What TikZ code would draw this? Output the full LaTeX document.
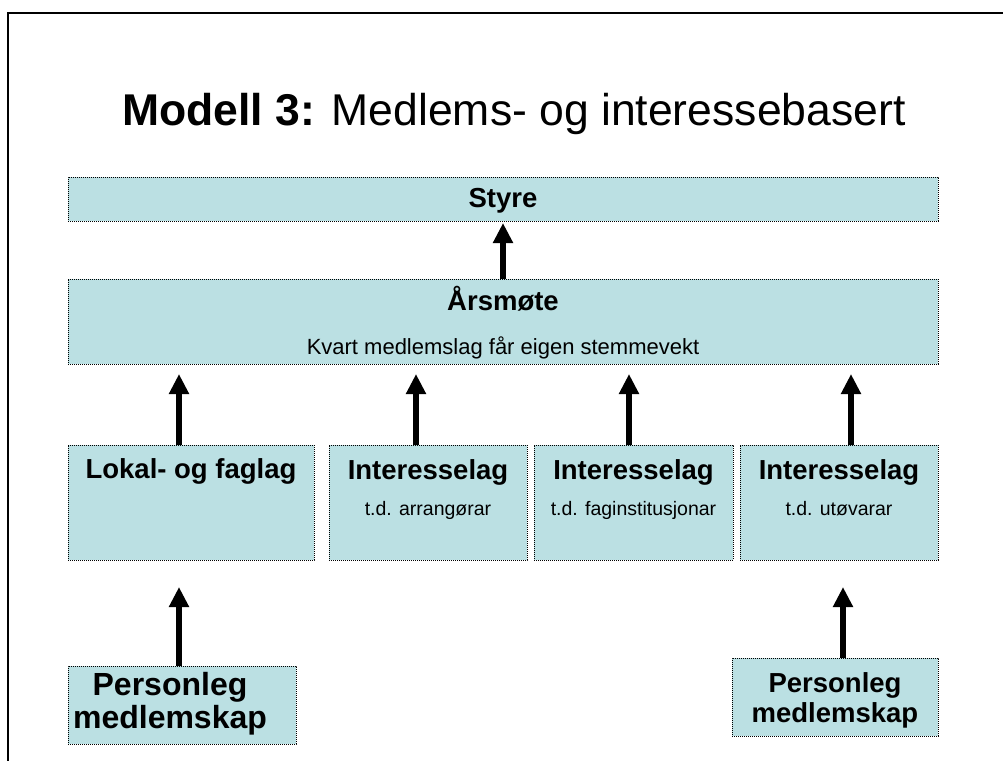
\documentclass[tikz,border=0pt]{standalone}
\usepackage{fontspec}
\setmainfont{Liberation Sans}
\usetikzlibrary{arrows.meta}
\definecolor{boxfill}{RGB}{187,224,227}
\tikzset{
  box/.style={draw=black, fill=boxfill, line width=0.9bp, dash pattern=on 1bp off 1bp, inner sep=0pt},
  arr/.style={line width=6bp, -{Triangle[width=19bp,length=20bp]}},
  lbl/.style={anchor=base, inner sep=0pt, font=\fontsize{27.5bp}{33bp}\selectfont\bfseries},
  sub/.style={anchor=base, inner sep=0pt, font=\fontsize{19.5bp}{23bp}\selectfont},
}
\newcommand{\boxat}[5]{\node[box, minimum width={(#4-#2)*1bp}, minimum height={(#5-#3)*1bp}] (#1) at ({(#2+#4)/2},{(#3+#5)/2}) {};}
\begin{document}
\begin{tikzpicture}[x=1bp,y=-1bp]
\useasboundingbox (0,0) rectangle (1003,761);
\draw[line width=2bp] (8,761) -- (8,13) -- (1003,13);
\node[anchor=base, inner sep=0pt, font=\fontsize{44.5bp}{53bp}\selectfont] (title) at (514,125) {\textbf{Modell 3:} Medlems- og interessebasert};
\boxat{styre}{68}{177}{938}{221}
\boxat{aars}{68}{279}{938}{364}
\boxat{l1}{68}{445}{314}{560}
\boxat{l2}{329}{445}{527}{560}
\boxat{l3}{534}{445}{733}{560}
\boxat{l4}{740}{445}{938}{560}
\boxat{p1}{68}{666}{296}{744}
\boxat{p2}{732}{658}{938}{736}
\node[lbl] (tstyre) at (503,207) {Styre};
\node[lbl] (taars) at (503,310) {Årsmøte};
\node[sub, font=\fontsize{22bp}{26bp}\selectfont] (tkvart) at (503,354) {Kvart medlemslag får eigen stemmevekt};
\node[lbl] (tl1) at (191,478) {Lokal- og faglag};
\node[lbl] (tl2) at (428,479) {Interesselag};
\node[sub] (sl2) at (428,515) {t.d. arrangørar};
\node[lbl] (tl3) at (633.5,479) {Interesselag};
\node[sub] (sl3) at (633.5,515) {t.d. faginstitusjonar};
\node[lbl] (tl4) at (839,479) {Interesselag};
\node[sub] (sl4) at (839,515) {t.d. utøvarar};
\node[lbl, font=\fontsize{32bp}{33bp}\selectfont\bfseries] (tp1a) at (170,695) {Personleg};
\node[lbl, font=\fontsize{32bp}{33bp}\selectfont\bfseries] (tp1b) at (170,728) {medlemskap};
\node[lbl] (tp2a) at (835,692) {Personleg};
\node[lbl] (tp2b) at (835,722) {medlemskap};
\coordinate (a0) at (503,223);
\coordinate (a1) at (179,374);
\coordinate (a2) at (416,374);
\coordinate (a3) at (629,374);
\coordinate (a4) at (851,374);
\coordinate (b1) at (179,587);
\coordinate (b2) at (843,587);
\draw[arr] (aars.north -| a0) -- (a0);
\draw[arr] (l1.north -| a1) -- (a1);
\draw[arr] (l2.north -| a2) -- (a2);
\draw[arr] (l3.north -| a3) -- (a3);
\draw[arr] (l4.north -| a4) -- (a4);
\draw[arr] (p1.north -| b1) -- (b1);
\draw[arr] (p2.north -| b2) -- (b2);
\end{tikzpicture}
\end{document}
